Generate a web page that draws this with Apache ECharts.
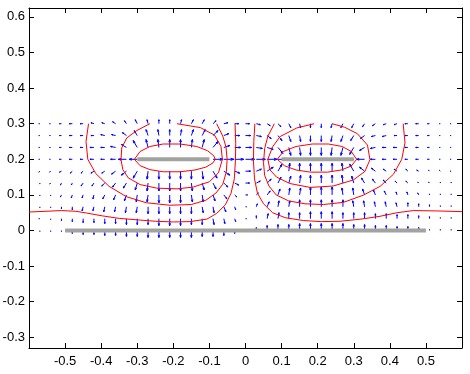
<!DOCTYPE html>
<html><head><meta charset="utf-8">
<script src="https://cdn.jsdelivr.net/npm/echarts@6/dist/echarts.min.js"></script>
<style>html,body{margin:0;padding:0;background:#fff}#c{width:470px;height:374px}</style>
</head><body><div id="c"></div>
<script>
// ---- tick labels ----
const xTicks = [-0.5,-0.4,-0.3,-0.2,-0.1,0,0.1,0.2,0.3,0.4,0.5];
const yTicks = [-0.3,-0.2,-0.1,0,0.1,0.2,0.3,0.4,0.5,0.6];

// ---- quiver grid ----
const xGrid = [-0.57,-0.54,-0.51,-0.48,-0.45,-0.42,-0.39,-0.36,-0.33,-0.30,-0.27,-0.24,-0.21,-0.18,-0.15,-0.12,-0.09,-0.06,-0.03,0,
  0.03,0.06,0.09,0.12,0.15,0.18,0.21,0.24,0.27,0.30,0.33,0.36,0.39,0.42,0.45,0.48,0.51,0.54,0.57];
const yRows = [0.3,0.2667,0.2333,0.2,0.1667,0.1333,0.1,0.0667,0.0333,0];

// field components (x) per row, top row first
const U = [
 [-1,-1,-2,-3,-3,-3,-3,-3,-2,-2, -1,0,0,1,2,2,3,4,4,4, 4,3,3,2,1,0,0,-1,-2,-2, -2,-3,-3,-3,-3,-3,-2,-1,-1],
 [-1,-1,-2,-3,-3,-3,-4,-4,-4,-3, -2,-1,0,1,2,3,5,5,5,5, 5,4,4,2,1,0,0,-1,-2,-3, -4,-4,-4,-3,-3,-3,-2,-1,-1],
 [-1,-1,-2,-3,-3,-4,-4,-5,-5,-4, -2,-1,0,0,1,2,5,6,6,6, 6,6,5,2,1,0,0,-1,-2,-4, -5,-5,-4,-4,-3,-3,-2,-1,-1],
 [-1,-1,-2,-3,-3,-4,-4,-5,-8,-8, 0,0,0,0,0,0,10,10,9,9, 9,10,10,0,0,0,0,0,0,-8, -8,-5,-4,-4,-3,-3,-2,-1,-1],
 [-1,-1,-2,-2,-2,-3,-3,-4,-5,-4, -1,0,0,0,0,1,4,6,5,5, 5,6,4,1,0,0,0,0,-1,-4, -5,-4,-3,-3,-2,-2,-1,-1,-1],
 [0,-1,-1,-1,-2,-2,-3,-3,-3,-2, -1,0,0,0,1,2,3,4,4,4, 4,4,3,2,1,0,0,0,-1,-2, -3,-3,-3,-2,-2,-1,-1,0,0],
 [0,0,-1,-1,-1,-1,-2,-2,-2,-1, -1,0,0,0,1,1,2,3,2,2, 2,3,2,1,1,0,0,0,-1,-1, -2,-2,-2,-1,-1,-1,0,0,0],
 [0,0,0,0,-1,-1,-1,-1,-1,-1, 0,0,0,0,0,1,1,2,1,1, 1,2,1,1,0,0,0,0,0,-1, -1,-1,-1,-1,0,0,0,0,0],
 [-1,0,0,0,0,0,0,0,0,0, 0,0,0,0,0,0,1,1,1,1, 0,1,1,0,0,0,0,0,0,0, 0,0,0,0,0,0,0,0,0],
 [0,0,0,0,0,0,0,0,0,0, 0,0,0,0,0,0,0,0,0,0, 0,0,0,0,0,0,0,0,0,0, 0,0,0,0,0,0,0,0,0]
];
// field components (y) per row, top row first
const V = [
 [0,0,0,0,0,1,1,2,3,4, 4,4,4,4,4,4,3,1,0,0, -1,-2,-3,-4,-4,-4,-4,-4,-4,-4, -3,-2,-1,-1,0,0,0,0,0],
 [0,0,0,0,0,0,1,1,3,5, 6,6,6,6,6,6,5,2,0,0, -1,-3,-5,-6,-6,-6,-6,-6,-6,-5, -3,-1,-1,0,0,0,0,0,0],
 [0,0,0,0,0,0,0,1,3,7, 8,8,8,8,8,8,6,2,0,0, -1,-2,-6,-8,-8,-8,-8,-8,-8,-7, -3,-1,0,0,0,0,0,0,0],
 [0,0,0,0,0,0,0,0,0,0, 0,0,0,0,0,0,0,0,0,0, 0,0,0,0,0,0,0,0,0,0, 0,0,0,0,0,0,0,0,0],
 [-1,-1,-1,-2,-2,-2,-2,-3,-4,-7, -8,-8,-8,-8,-8,-8,-7,-4,-2,0, 2,4,7,8,8,8,8,8,8,7, 4,3,2,2,2,1,1,1,0],
 [-1,-1,-2,-2,-3,-3,-3,-4,-5,-7, -8,-8,-8,-8,-8,-7,-6,-4,-2,0, 2,4,6,7,8,8,8,8,8,7, 5,4,3,2,2,1,1,1,1],
 [-1,-1,-2,-3,-3,-4,-4,-5,-6,-7, -7,-8,-8,-8,-7,-7,-6,-4,-2,0, 2,4,6,7,7,8,8,8,7,7, 6,5,4,3,3,2,1,1,1],
 [-1,-1,-2,-3,-4,-4,-5,-5,-6,-6, -7,-7,-7,-7,-7,-6,-6,-5,-3,0, 3,5,6,6,7,7,7,7,7,6, 6,5,5,4,4,3,2,1,1],
 [0,-1,-2,-3,-4,-4,-5,-5,-6,-6, -6,-7,-7,-7,-6,-6,-6,-5,-3,0, 3,5,6,6,6,7,7,7,6,6, 6,5,5,4,4,3,2,1,1],
 [-1,-1,-1,-3,-4,-4,-5,-5,-6,-6, -7,-7,-7,-7,-7,-6,-6,-5,-3,0, 3,5,6,6,7,7,7,7,7,6, 6,5,5,4,4,3,1,1,1]
];

// ---- equipotential contours ----
const L1 = [[-0.308,0.2],[-0.292,0.222],[-0.265,0.236],[-0.228,0.243],[-0.181,0.243],[-0.135,0.236],[-0.105,0.224],[-0.088,0.21],[-0.084,0.2],[-0.09,0.19],[-0.11,0.178],[-0.14,0.17],[-0.181,0.165],[-0.228,0.165],[-0.265,0.171],[-0.292,0.182],[-0.308,0.2]];
const L2 = [[-0.265,0.3],[-0.301,0.281],[-0.329,0.26],[-0.343,0.232],[-0.345,0.199],[-0.34,0.171],[-0.325,0.148],[-0.292,0.129],[-0.246,0.119],[-0.19,0.117],[-0.145,0.122],[-0.1,0.137],[-0.075,0.162],[-0.064,0.2],[-0.068,0.236],[-0.086,0.268],[-0.125,0.289],[-0.19,0.3]];
const L3 = [[-0.435,0.3],[-0.442,0.25],[-0.437,0.2],[-0.415,0.16],[-0.378,0.124],[-0.33,0.095],[-0.275,0.078],[-0.21,0.071],[-0.15,0.073],[-0.11,0.085],[-0.082,0.105],[-0.063,0.13],[-0.053,0.165],[-0.051,0.2],[-0.054,0.235],[-0.063,0.265],[-0.08,0.3]];
const L4 = [[-0.6,0.052],[-0.553,0.054],[-0.51,0.056],[-0.47,0.054],[-0.44,0.049],[-0.396,0.041],[-0.35,0.034],[-0.3,0.03],[-0.25,0.026],[-0.2,0.024],[-0.154,0.025],[-0.107,0.032],[-0.08,0.048],[-0.056,0.072],[-0.04,0.105],[-0.031,0.145],[-0.028,0.195],[-0.027,0.245],[-0.029,0.3]];
const R1 = [[0.088,0.2],[0.105,0.222],[0.14,0.236],[0.185,0.243],[0.23,0.243],[0.268,0.236],[0.293,0.222],[0.308,0.2],[0.293,0.181],[0.265,0.17],[0.228,0.164],[0.18,0.164],[0.14,0.17],[0.108,0.182],[0.088,0.2]];
const R2 = [[0.19,0.3],[0.142,0.288],[0.096,0.264],[0.075,0.235],[0.062,0.2],[0.068,0.17],[0.086,0.15],[0.123,0.132],[0.179,0.121],[0.243,0.125],[0.299,0.142],[0.331,0.166],[0.345,0.199],[0.338,0.24],[0.31,0.272],[0.275,0.29],[0.24,0.3]];
const R3 = [[0.08,0.3],[0.062,0.265],[0.053,0.23],[0.05,0.19],[0.053,0.155],[0.065,0.125],[0.085,0.1],[0.12,0.083],[0.165,0.075],[0.216,0.073],[0.271,0.079],[0.326,0.099],[0.373,0.124],[0.41,0.158],[0.433,0.2],[0.442,0.246],[0.437,0.3]];
const R4 = [[0.026,0.3],[0.023,0.25],[0.022,0.195],[0.025,0.145],[0.033,0.105],[0.05,0.075],[0.075,0.05],[0.11,0.036],[0.16,0.028],[0.21,0.025],[0.262,0.026],[0.32,0.032],[0.373,0.04],[0.42,0.05],[0.465,0.056],[0.53,0.055],[0.6,0.053]];

// ---- electrodes ----
const plateBottom = [[-0.5,0],[0.5,0]];
const plateLeft = [[-0.3,0.2],[-0.1,0.2]];
const plateRight = [[0.1,0.2],[0.3,0.2]];

const FIELD_SCALE = 1/358;

const quiverData = [];
yRows.forEach((y, r) => xGrid.forEach((x, c) => quiverData.push([x, y, U[r][c], V[r][c]])));

const chart = echarts.init(document.getElementById('c'), null, {renderer:'canvas'});
const fmt = v => String(+(+v).toFixed(1));
const axLine = {show:true, onZero:false, lineStyle:{color:'#000', width:1}};
const font = {color:'#000', fontSize:13, fontFamily:'Liberation Sans, Arial, sans-serif'};

function contour(d){ return {type:'line', data:d, showSymbol:false, symbol:'none', z:3, silent:true,
  lineStyle:{color:'#ff0000', width:1}, animation:false}; }
function plate(d){ return {type:'line', data:d, showSymbol:false, symbol:'none', z:4, silent:true,
  lineStyle:{color:'#a2a29e', width:4, cap:'butt'}, animation:false}; }

chart.setOption({
  animation:false,
  backgroundColor:'#fff',
  grid:{left:29, right:8, top:8, bottom:26, containLabel:false, outerBoundsMode:'none'},
  xAxis:[
    {type:'value', min:-0.6, max:0.6, position:'bottom', axisLine:axLine, splitLine:{show:false},
     axisTick:{show:true, inside:true, length:5, customValues:xTicks, lineStyle:{color:'#000'}},
     axisLabel:Object.assign({customValues:xTicks, formatter:fmt, margin:7}, font)},
    {type:'value', min:-0.6, max:0.6, position:'top', axisLine:axLine, splitLine:{show:false},
     axisTick:{show:true, inside:true, length:5, customValues:xTicks, lineStyle:{color:'#000'}},
     axisLabel:{show:false}}
  ],
  yAxis:[
    {type:'value', min:-0.33, max:0.625, position:'left', axisLine:axLine, splitLine:{show:false},
     axisTick:{show:true, inside:true, length:5, customValues:yTicks, lineStyle:{color:'#000'}},
     axisLabel:Object.assign({customValues:yTicks, formatter:fmt, margin:4}, font)},
    {type:'value', min:-0.33, max:0.625, position:'right', axisLine:axLine, splitLine:{show:false},
     axisTick:{show:true, inside:true, length:5, customValues:yTicks, lineStyle:{color:'#000'}},
     axisLabel:{show:false}}
  ],
  series:[
    {type:'custom', data:quiverData, z:2, silent:true, clip:true, encode:{x:0, y:1},
     renderItem:function(params, api){
       const x = api.value(0), y = api.value(1), u = api.value(2), v = api.value(3);
       if (u === 0 && v === 0) return null;
       const p0 = api.coord([x, y]);
       const p1 = api.coord([x + u*FIELD_SCALE, y + v*FIELD_SCALE]);
       const a = p1[0]-p0[0], b = p1[1]-p0[1];
       const al = 0.33, be = 0.33;
       const h1 = [p1[0] - al*(a + be*b), p1[1] - al*(b - be*a)];
       const h2 = [p1[0] - al*(a - be*b), p1[1] - al*(b + be*a)];
       return {type:'group', children:[
         {type:'line', shape:{x1:p0[0], y1:p0[1], x2:p1[0], y2:p1[1]}, style:{stroke:'#0000ff', lineWidth:1}},
         {type:'polyline', shape:{points:[h1, p1, h2]}, style:{stroke:'#0000ff', fill:null, lineWidth:1}}
       ]};
     }},
    contour(L1), contour(L2), contour(L3), contour(L4),
    contour(R1), contour(R2), contour(R3), contour(R4),
    plate(plateBottom), plate(plateLeft), plate(plateRight)
  ]
});
</script>
</body></html>
